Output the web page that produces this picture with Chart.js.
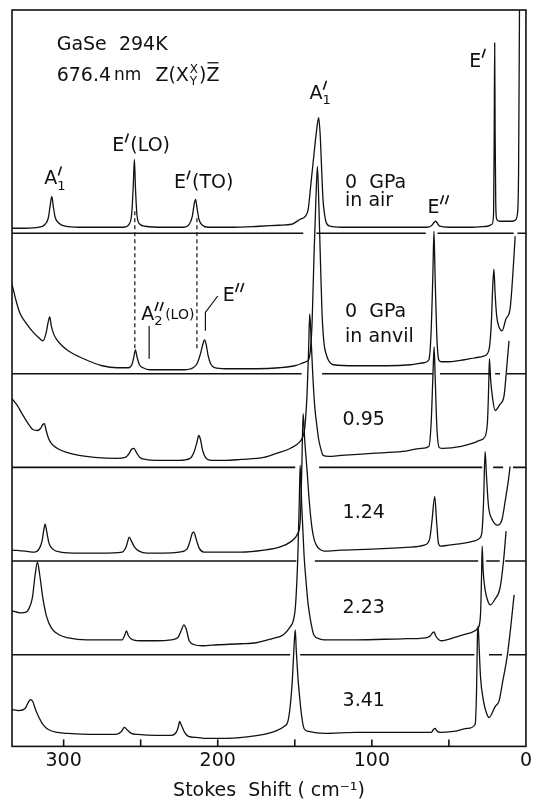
<!DOCTYPE html>
<html>
<head>
<meta charset="utf-8">
<script src="https://cdn.jsdelivr.net/npm/chart.js@4.4.0/dist/chart.umd.min.js"></script>
<style>
  html, body { margin: 0; padding: 0; background: #fff; }
  #wrap { width: 535px; height: 805px; }
</style>
</head>
<body>
<div id="wrap"><canvas id="raman"></canvas></div>
<script>
// Raman spectra of GaSe, [Stokes shift (cm-1), intensity above the spectrum's own zero line]
const airSpectrum = [[333.5,5],[325,5],[316,6],[312,9],[310,15],[308.7,28],[307.7,37],[306.7,27],[305.5,16],[303,10],[299,7],[290,6],[270,6],[261,6],[257.5,9],[255.8,20],[254.8,48],[254.1,74],[253.4,46],[252.4,18],[250.5,9],[247,7],[235,6],[222,6],[218.5,9],[216.5,17],[215.2,30],[214.4,34],[213.5,26],[212.2,14],[210,8],[206,6],[190,6],[173,7],[160,8],[152,9],[146.5,14],[143.2,17],[141.3,24],[139.5,50],[137.5,80],[135.8,104],[134.5,116],[133.5,98],[132.6,65],[131.7,34],[130.6,18],[129.7,11],[127,7],[120,6],[100,6],[80,6],[64,6],[61,8],[59.5,11],[58.5,12],[57.5,10],[56,7],[50,6],[35,6],[25,7],[22,9],[21,20],[20.6,100],[20.3,191],[20,100],[19.6,30],[19,14],[17,12],[14,12],[9,12],[7,13],[5.5,20],[4.8,60],[4.2,224]];
const anvilSpectrum = [[333.5,90],[331,74],[328.4,61],[324,50],[319.4,41],[316,36],[313.5,33],[311.5,40],[310,52],[309,57],[308,48],[306.5,40],[304.8,35],[301,28],[297,23],[290,17],[284,13],[275,8],[265,6],[258,6],[255.5,10],[254.3,18],[253.4,24],[252.4,17],[250.8,9],[248.5,6],[244,4],[232,4],[222,4],[216,6],[213.5,10],[211.2,20],[209.6,30],[208.6,34],[207.6,30],[206.2,18],[204.6,10],[202,6],[195,5],[175,5],[160,6],[150,8],[146,10],[143,12],[141,14],[139.5,30],[138.7,55],[137.5,120],[136.3,175],[135.3,208],[134.3,165],[133.3,110],[132.3,60],[131,30],[129.7,20],[128,13],[125,9],[110,8],[90,8],[75,9],[66,11],[63,14],[61.6,40],[60.4,100],[59.7,143],[59,100],[57.9,40],[56.6,14],[55,12],[50,12],[40,14],[33,16],[27,18],[24,24],[22.5,50],[21.5,90],[20.8,105],[20,80],[19,58],[17.5,47],[15.5,43],[13,55],[10.3,65],[8.5,100],[7,138]];
const gpa095Spectrum = [[333.5,69],[330,62],[327,54],[323,44],[320,38],[317,37],[315,39],[313.5,43],[312.5,44],[311.5,38],[310,30],[308,24],[304,19],[298,15],[290,12],[280,10],[266,9],[260,10],[257.5,14],[256,18],[254.3,19],[252.8,15],[250.5,10],[247,8],[240,7],[225,7],[218,9],[215.5,15],[213.5,25],[212.3,32],[211.2,28],[209.8,17],[207.5,9],[204,7],[195,7],[185,8],[170,10],[162,14],[153,19],[146.5,26],[144.5,32],[143.5,40],[142,75],[141,120],[140.3,154],[139.3,125],[138.2,89],[137,60],[136,46],[134.5,28],[133,18],[131.6,12],[128,11],[120,12],[100,14],[80,16],[68,19],[63,21],[61.5,45],[60.3,95],[59.6,121],[58.9,90],[57.8,40],[56.3,20],[54,19],[42,21],[35,24],[30,27],[27,30],[25,45],[24.2,80],[23.7,109],[23,90],[21.7,70],[20,57],[17,63],[14.2,72],[12.5,100],[11,127]];
const gpa124Spectrum = [[333.5,11],[325,10],[319,9],[316,12],[314,20],[313,30],[312,37],[311,30],[309.5,18],[307,12],[302,9],[290,8],[275,8],[262,9],[259.5,14],[258,22],[257.4,24],[256,20],[254,14],[251,10],[246,8],[235,8],[225,9],[220,12],[218,20],[216.5,28],[215.5,29],[214,22],[212,13],[209,9],[200,9],[185,9],[170,11],[160,14],[153,19],[148,28],[146.5,40],[145.5,90],[144.6,148],[143.5,120],[142,90],[140.6,60],[139,35],[137.5,22],[136,16],[134,12],[131,10],[120,11],[100,12],[75,14],[66,16],[62.5,22],[61,40],[59.2,65],[58,40],[56.8,18],[55.5,15],[50,16],[40,18],[34,20],[30,23],[28.5,30],[27.5,60],[26.5,110],[25.6,85],[24.3,55],[22,42],[18.3,36],[15.5,42],[13.5,60],[11.5,80],[10.3,95]];
const gpa223Spectrum = [[333.5,44],[328,42],[324,43],[322.6,46],[320.3,57],[318.5,80],[317,93],[315.5,80],[313.5,57],[311,38],[308,27],[303,20],[297,17],[285,15],[270,15],[262,15],[260.5,19],[259.2,24],[258,19],[255,15],[250,14],[240,14],[230,15],[226,17],[223.5,25],[222,30],[220.5,26],[218.5,14],[215,10],[210,9],[200,10],[185,11],[175,12],[165,16],[157.4,20],[153,28],[151,34],[149.5,50],[148,100],[147,160],[146.5,190],[145.5,150],[144,100],[142.5,70],[141.3,50],[139.5,32],[137.7,20],[134,16],[131,15],[110,15],[80,16],[65,17],[62,19],[60.6,22],[59.6,23],[58.6,19],[56.5,15],[55,14],[45,18],[36,22],[31,27],[29.5,40],[28.8,80],[28.4,109],[27.8,85],[26.5,65],[24.5,53],[23.2,50],[20,56],[16.8,67],[14.5,95],[12.9,124]];
const gpa341Spectrum = [[333.5,37],[329,36],[325,38],[323,44],[321.5,47],[320,45],[318.5,38],[316,29],[313,21],[310,17],[304,14],[297,13],[280,12],[266,12],[262.5,15],[260.6,19],[259,17],[256,13],[252,12],[240,11],[230,11],[227,14],[225.5,20],[224.8,25],[223.8,22],[221.5,14],[219,10],[214,9],[207,8],[195,8],[184,9],[170,12],[163,15],[157,20],[154.5,25],[153,40],[151.5,69],[150.5,100],[149.7,117],[149,95],[148,70],[147,52],[145.5,30],[144,18],[141,15],[131,13],[110,14],[90,14],[70,14],[61.5,14],[60,17],[59,18],[58,16],[56,14],[47,15],[38,18],[33,22],[32,60],[31.5,110],[31,121],[30.4,100],[29.5,70],[27.5,45],[25.5,33],[24,29],[20,40],[17.4,46],[15,66],[12.3,89],[10,118],[7.7,152]];

const spectra = [airSpectrum, anvilSpectrum, gpa095Spectrum, gpa124Spectrum, gpa223Spectrum, gpa341Spectrum];
// vertical offset of each trace (its zero line), top to bottom
const zeroLevels = [515, 374, 280, 186, 92, 0];
// drawn pieces of each zero line, broken where other traces cross
const zeroSegments = [
  [[333.5,144.5],[136,65],[57.4,8],[5.5,0]],
  [[333.5,145.6],[132.3,60.3],[55.8,22.6],[20,16.8],[12.3,0]],
  [[333.5,149.7],[134.2,28.4],[21.3,14.8],[8.4,0]],
  [[333.5,149],[137,31],[25.8,17],[13.5,0]],
  [[333.5,153],[146.5,33.5],[24,15.5],[11,0]]
];
const majorTicks = [300, 200, 100, 0];
const minorTicks = [300, 250, 200, 150, 100, 50];
const pressureLabels = ['0.95', '1.24', '2.23', '3.41'];
const pressureLabelLevels = [327, 234, 139, 45];

const black = '#111';

function traceData(points, offset) {
  return points.map(p => ({ x: p[0], y: p[1] + offset }));
}

const datasets = spectra.map((s, i) => ({
  data: traceData(s, zeroLevels[i]),
  borderColor: black,
  borderWidth: 1.3,
  cubicInterpolationMode: 'monotone'
}));

zeroSegments.forEach((segs, i) => {
  const pts = [];
  segs.forEach(seg => {
    pts.push({ x: seg[0], y: zeroLevels[i] }, { x: seg[1], y: zeroLevels[i] }, { x: (seg[1] + 0.01), y: null });
  });
  datasets.push({ data: pts, borderColor: black, borderWidth: 1.6, spanGaps: false });
});

// dashed guides from E'(LO) and E'(TO) down to the anvil trace
datasets.push({ data: [{ x: 253.8, y: 537 }, { x: 253.8, y: 399 }], borderColor: black, borderWidth: 1.2, borderDash: [4, 3] });
datasets.push({ data: [{ x: 213.5, y: 530 }, { x: 213.5, y: 399 }], borderColor: black, borderWidth: 1.2, borderDash: [4, 3] });
// label leaders
datasets.push({ data: [{ x: 244.5, y: 422 }, { x: 244.5, y: 389 }], borderColor: black, borderWidth: 1.2 });
datasets.push({ data: [{ x: 200, y: 452 }, { x: 208, y: 435.5 }, { x: 208, y: 417 }], borderColor: black, borderWidth: 1.2 });

const FONT = '"DejaVu Sans", sans-serif';

// letter with slanted prime strokes, optional subscript and trailing text
function symbol(ctx, x, y, letter, primes, sub, tail, tailSize) {
  ctx.font = '19px ' + FONT;
  ctx.textAlign = 'left';
  ctx.textBaseline = 'middle';
  ctx.fillText(letter, x, y);
  const w = ctx.measureText(letter).width;
  let extra = 0;
  ctx.lineWidth = 1.6;
  for (let k = 0; k < primes; k++) {
    const ox = x + w + 1 + k * 5;
    ctx.beginPath();
    ctx.moveTo(ox, y - 4);
    ctx.lineTo(ox + 3, y - 13);
    ctx.stroke();
    extra = Math.max(extra, 5 * k + 5);
  }
  if (sub) {
    ctx.font = '13px ' + FONT;
    ctx.fillText(sub, x + w, y + 7);
    extra = Math.max(extra, ctx.measureText(sub).width + 1);
  }
  if (tail) {
    ctx.font = (tailSize || 19) + 'px ' + FONT;
    ctx.fillText(tail, x + w + extra + 1, y);
  }
}

const annotations = {
  id: 'annotations',
  afterDatasetsDraw(chart) {
    const { ctx, chartArea: a, scales: { x, y } } = chart;
    const px = v => x.getPixelForValue(v);
    const py = v => y.getPixelForValue(v);
    ctx.save();
    // frame
    ctx.strokeStyle = black;
    ctx.lineWidth = 1.6;
    ctx.strokeRect(a.left, a.top, a.right - a.left, a.bottom - a.top);
    // inward tick marks
    minorTicks.forEach(t => {
      ctx.beginPath();
      ctx.moveTo(px(t), a.bottom);
      ctx.lineTo(px(t), a.bottom - 7);
      ctx.stroke();
    });

    ctx.fillStyle = black;
    ctx.textBaseline = 'middle';
    ctx.textAlign = 'left';
    ctx.font = '19px ' + FONT;
    ctx.fillText('GaSe  294K', px(304.5), py(704));

    // 676.4 nm Z(X X/Y)Z-bar
    let cx = px(304.5);
    const cy = py(673);
    ctx.fillText('676.4', cx, cy);
    cx += ctx.measureText('676.4').width + 3;
    ctx.font = '17px ' + FONT;
    ctx.fillText('nm', cx, cy);
    cx += ctx.measureText('nm').width + 14;
    ctx.font = '19px ' + FONT;
    ctx.fillText('Z(X', cx, cy);
    cx += ctx.measureText('Z(X').width + 1;
    ctx.font = '12px ' + FONT;
    ctx.fillText('X', cx, cy - 6);
    ctx.fillText('Y', cx, cy + 6);
    cx += ctx.measureText('X').width + 1;
    ctx.font = '19px ' + FONT;
    ctx.fillText(')', cx, cy);
    cx += ctx.measureText(')').width;
    ctx.fillText('Z', cx, cy);
    const zw = ctx.measureText('Z').width;
    ctx.lineWidth = 1.3;
    ctx.beginPath();
    ctx.moveTo(cx + 1, cy - 13);
    ctx.lineTo(cx + zw - 1, cy - 13);
    ctx.stroke();

    // mode labels
    symbol(ctx, px(312.5), py(569), 'A', 1, '1');
    symbol(ctx, px(268.4), py(602), 'E', 1, null, '(LO)');
    symbol(ctx, px(228.4), py(565), 'E', 1, null, '(TO)');
    symbol(ctx, px(140.5), py(655), 'A', 1, '1');
    symbol(ctx, px(63.9), py(540), 'E', 2);
    symbol(ctx, px(36.8), py(687), 'E', 1);
    symbol(ctx, px(249.7), py(433), 'A', 2, '2', '(LO)', 14);
    symbol(ctx, px(196.8), py(452), 'E', 2);

    ctx.font = '19px ' + FONT;
    ctx.textAlign = 'left';
    ctx.fillText('0  GPa', px(117.4), py(565));
    ctx.fillText('in air', px(117.4), py(547));
    ctx.fillText('0  GPa', px(117.4), py(436));
    ctx.fillText('in anvil', px(117.4), py(411));
    pressureLabels.forEach((t, i) => ctx.fillText(t, px(119), py(pressureLabelLevels[i])));
    ctx.restore();
  }
};

new Chart(document.getElementById('raman'), {
  type: 'scatter',
  data: { datasets },
  options: {
    responsive: true,
    maintainAspectRatio: false,
    animation: false,
    showLine: true,
    elements: { point: { radius: 0 }, line: { tension: 0 } },
    layout: { padding: { left: 12, right: 0, top: 10, bottom: 3 } },
    plugins: { legend: { display: false }, tooltip: { enabled: false } },
    scales: {
      x: {
        type: 'linear',
        reverse: true,
        min: 0,
        max: 333.5,
        grid: { display: false, drawTicks: false },
        border: { display: false },
        afterBuildTicks: scale => { scale.ticks = majorTicks.map(v => ({ value: v })); },
        ticks: { color: black, font: { family: FONT, size: 19 }, padding: 3, maxRotation: 0, autoSkip: false },
        title: { display: true, text: 'Stokes  Shift ( cm\u207B\u00B9)', color: black, font: { family: FONT, size: 19 }, padding: { top: 4, bottom: 0 } }
      },
      y: { type: 'linear', display: false, min: 0, max: 739 }
    }
  },
  plugins: [annotations]
});
</script>
</body>
</html>
